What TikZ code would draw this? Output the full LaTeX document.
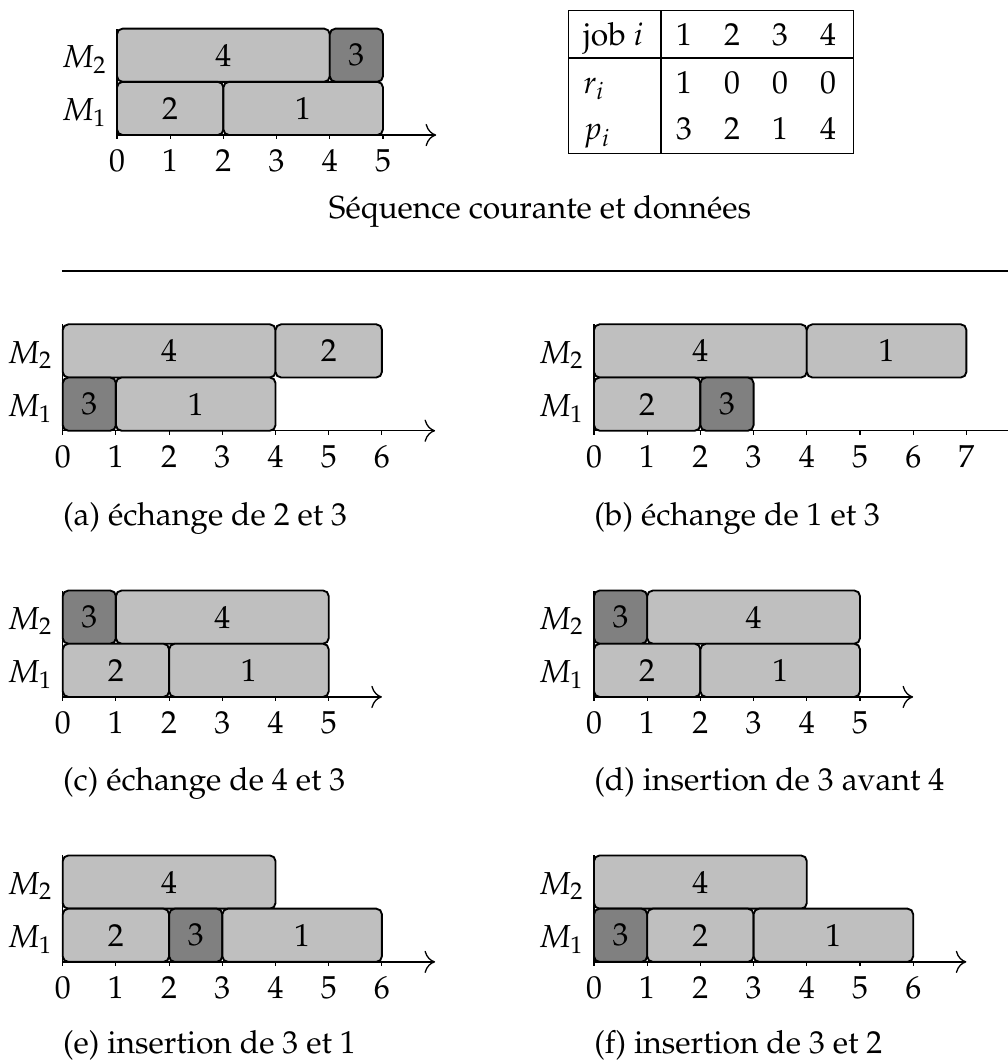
\documentclass[tikz,border=0pt]{standalone}
\usepackage[T1]{fontenc}
\usepackage{mathpazo}
\usepackage{tikz}
\usetikzlibrary{arrows.meta,positioning}

% time axis, machine axis, ticks and machine names of one schedule
\newcommand{\ganttaxis}[2]{%
    \coordinate (#1O) at (0,0);
    \coordinate (#1X) at (#2+1,0);
    \coordinate (#1Y) at (0,2);
    \draw[timeaxis] (#1O) -- (#1X);
    \draw[machaxis] (#1O) -- (#1Y);
    \foreach \tk in {0,...,#2} {
        \draw[tickmark] (\tk,0) -- (\tk,-0.08);
        \node[ticklabel] (#1t\tk) at (\tk,-0.69) {$\tk$};
    }
    \node[machlabel] (#1m1) at (-0.19,0.27) {$M_1$};
    \node[machlabel] (#1m2) at (-0.19,1.27) {$M_2$};
}

\begin{document}
\begin{tikzpicture}[
    job/.style={draw, line width=1pt, rounded corners=3pt, fill=black!25,
        minimum height=1cm, inner sep=0pt, outer sep=0pt, anchor=south west,
        font=\fontsize{17}{20}\selectfont},
    jobhot/.style={job, fill=black!50},
    timeaxis/.style={line width=0.7pt, -{To[length=2mm]}},
    machaxis/.style={line width=0.7pt},
    tickmark/.style={line width=0.6pt},
    ticklabel/.style={anchor=base, inner sep=0pt, font=\fontsize{17}{20}\selectfont},
    machlabel/.style={anchor=base east, inner sep=0pt, font=\fontsize{17}{20}\selectfont},
    subcap/.style={anchor=base west, inner sep=0pt, font=\fontsize{17}{20}\selectfont},
    cell/.style={anchor=base, inner sep=0pt, font=\fontsize{17}{20}\selectfont},
    sepline/.style={line width=1pt}
]
\useasboundingbox (0,0) rectangle (18.947,-19.981);

% current sequence
\begin{scope}[shift={(2.199,-2.538)}]
    \ganttaxis{s}{5}
    \node[job, minimum width=4cm] (s4) at (0,1) {4};
    \node[jobhot, minimum width=1cm] (s3) at (4,1) {3};
    \node[job, minimum width=2cm] (s2) at (0,0) {2};
    \node[job, minimum width=3cm] (s1) at (2,0) {1};
\end{scope}

% data table
\node[draw, line width=0.7pt, minimum width=5.357cm, minimum height=2.688cm,
    inner sep=0pt, anchor=north west] (tab) at (10.677,-0.188) {};
\coordinate (tabsep) at (12.425,0);
\coordinate (tabrule) at (0,-1.090);
\draw[line width=0.7pt] (tabsep |- tab.north) -- (tabsep |- tab.south);
\draw[line width=0.7pt] (tabrule -| tab.west) -- (tabrule -| tab.east);
\node[cell, anchor=base west] (hjob) at (10.96,-0.846) {job $i$};
\node[cell, anchor=base west] (hr) at (10.96,-1.75) {$r_i$};
\node[cell, anchor=base west] (hp) at (10.96,-2.63) {$p_i$};
\foreach \c/\xc/\rv/\pv in {1/12.857/1/3, 2/13.759/0/2, 3/14.662/0/1, 4/15.564/0/4} {
    \node[cell] (hj\c) at (\xc,-0.846) {\c};
    \node[cell] (hr\c) at (\xc,-1.75) {\rv};
    \node[cell] (hp\c) at (\xc,-2.63) {\pv};
}

\node[subcap, anchor=base] (seqcap) at (10.15,-4.098) {S\'equence courante et donn\'ees};
\coordinate (ruleL) at (1.165,-5.094);
\coordinate (ruleR) at (19.3,-5.094);
\draw[sepline] (ruleL) -- (ruleR);

% (a)
\begin{scope}[shift={(1.179,-8.096)}]
    \ganttaxis{a}{6}
    \node[job, minimum width=4cm] (a4) at (0,1) {4};
    \node[job, minimum width=2cm] (a2) at (4,1) {2};
    \node[jobhot, minimum width=1cm] (a3) at (0,0) {3};
    \node[job, minimum width=3cm] (a1) at (1,0) {1};
    \node[subcap] (acap) at (0,-1.79) {(a) \'echange de 2 et 3};
\end{scope}

% (b)
\begin{scope}[shift={(11.165,-8.096)}]
    \ganttaxis{b}{7}
    \node[job, minimum width=4cm] (b4) at (0,1) {4};
    \node[job, minimum width=3cm] (b1) at (4,1) {1};
    \node[job, minimum width=2cm] (b2) at (0,0) {2};
    \node[jobhot, minimum width=1cm] (b3) at (2,0) {3};
    \node[subcap] (bcap) at (0,-1.79) {(b) \'echange de 1 et 3};
\end{scope}

% (c)
\begin{scope}[shift={(1.179,-13.10)}]
    \ganttaxis{c}{5}
    \node[jobhot, minimum width=1cm] (c3) at (0,1) {3};
    \node[job, minimum width=4cm] (c4) at (1,1) {4};
    \node[job, minimum width=2cm] (c2) at (0,0) {2};
    \node[job, minimum width=3cm] (c1) at (2,0) {1};
    \node[subcap] (ccap) at (0,-1.76) {(c) \'echange de 4 et 3};
\end{scope}

% (d)
\begin{scope}[shift={(11.165,-13.10)}]
    \ganttaxis{d}{5}
    \node[jobhot, minimum width=1cm] (d3) at (0,1) {3};
    \node[job, minimum width=4cm] (d4) at (1,1) {4};
    \node[job, minimum width=2cm] (d2) at (0,0) {2};
    \node[job, minimum width=3cm] (d1) at (2,0) {1};
    \node[subcap] (dcap) at (0,-1.76) {(d) insertion de 3 avant 4};
\end{scope}

% (e)
\begin{scope}[shift={(1.179,-18.08)}]
    \ganttaxis{e}{6}
    \node[job, minimum width=4cm] (e4) at (0,1) {4};
    \node[job, minimum width=2cm] (e2) at (0,0) {2};
    \node[jobhot, minimum width=1cm] (e3) at (2,0) {3};
    \node[job, minimum width=3cm] (e1) at (3,0) {1};
    \node[subcap] (ecap) at (0,-1.72) {(e) insertion de 3 et 1};
\end{scope}

% (f)
\begin{scope}[shift={(11.165,-18.08)}]
    \ganttaxis{f}{6}
    \node[job, minimum width=4cm] (f4) at (0,1) {4};
    \node[jobhot, minimum width=1cm] (f3) at (0,0) {3};
    \node[job, minimum width=2cm] (f2) at (1,0) {2};
    \node[job, minimum width=3cm] (f1) at (3,0) {1};
    \node[subcap] (fcap) at (0,-1.72) {(f) insertion de 3 et 2};
\end{scope}
\end{tikzpicture}
\end{document}
